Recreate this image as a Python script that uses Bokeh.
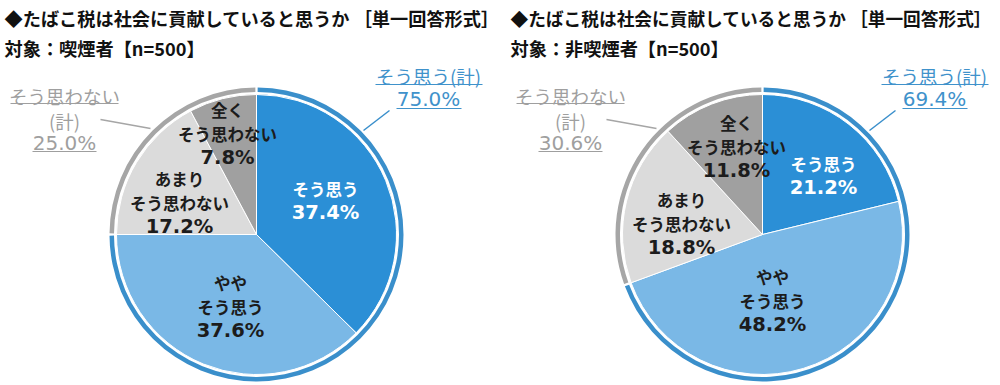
import math
from bokeh.plotting import figure
from bokeh.models import Range1d, ColumnDataSource
from bokeh.core.properties import value
from bokeh.embed import file_html
from bokeh.resources import INLINE

# ---------------- data ----------------
title_text = "◆たばこ税は社会に貢献していると思うか ［単一回答形式］"
subtitles = ["対象：喫煙者【n=500】", "対象：非喫煙者【n=500】"]
categories = ["そう思う", "ややそう思う", "あまりそう思わない", "全くそう思わない"]
category_lines = [["そう思う"], ["やや", "そう思う"], ["あまり", "そう思わない"], ["全く", "そう思わない"]]
smokers = [37.4, 37.6, 17.2, 7.8]
nonsmokers = [21.2, 48.2, 18.8, 11.8]
agree_lines = ["そう思う(計)"]
disagree_lines = ["そう思わない", "(計)"]

# ---------------- style ----------------
slice_colors = ["#2b8fd6", "#7ab8e6", "#dbdbdb", "#a0a0a0"]
label_colors = ["#ffffff", "#1c1c1c", "#1c1c1c", "#1c1c1c"]
ring_colors = ["#3a8fcb", "#a6a6a6"]
callout_colors = ["#3f92cb", "#9f9f9f"]
JP = value("Noto Sans CJK JP")
NUM = value("DejaVu Sans")

W, H = 1000, 385
PAGE_H = 385


def Y(img_y):
    return PAGE_H - img_y


p = figure(width=W, height=H, x_range=Range1d(0, W), y_range=Range1d(0, H),
           output_backend="svg", toolbar_location=None, x_axis_type=None, y_axis_type=None,
           min_border=0, outline_line_color=None)
p.grid.visible = False
p.background_fill_color = "white"
p.border_fill_color = "white"

CY = 234
R = 140
RING_IN, RING_OUT = 142.5, 147
GAP = math.radians(0.45)

panels = [
    dict(values=smokers, subtitle=subtitles[0], x0=4, cx=256, tsize="18.2px",
         offs=[(69, -34), (-26, 72), (-77, -32), (-29, -101)]),
    dict(values=nonsmokers, subtitle=subtitles[1], x0=510, cx=762, tsize="17.7px",
         offs=[(61, -59), (10, 66), (-81, -11), (-26, -88)]),
]


def ang(frac):
    return math.pi / 2 - 2 * math.pi * frac


for pan in panels:
    vals = pan["values"]
    cx = pan["cx"]
    cy = Y(CY)

    # titles
    p.text(x=[pan["x0"]], y=[Y(17)], text=[title_text], text_font=JP, text_font_style="bold",
           text_font_size=pan["tsize"], text_align="left", text_baseline="middle", text_color="#111111")
    p.text(x=[pan["x0"]], y=[Y(47)], text=[pan["subtitle"]], text_font=JP, text_font_style="bold",
           text_font_size="18.2px", text_align="left", text_baseline="middle", text_color="#111111")

    # slices
    starts, ends = [], []
    cum = 0.0
    for v in vals:
        f0, f1 = cum / 100, (cum + v) / 100
        starts.append(ang(f1))
        ends.append(ang(f0))
        cum += v
    src = ColumnDataSource(dict(x=[cx] * len(vals), y=[cy] * len(vals), s=starts, e=ends,
                                c=slice_colors, name=categories))
    p.wedge(x="x", y="y", radius=R, start_angle="s", end_angle="e", direction="anticlock",
            fill_color="c", line_color="white", line_width=1, source=src)

    # outer ring (totals)
    g_agree = sum(vals[:2])
    g_dis = sum(vals[2:])
    totals = [g_agree, g_dis]
    rs, re_ = [], []
    cum = 0.0
    for t in totals:
        f0, f1 = cum / 100, (cum + t) / 100
        rs.append(ang(f1) + GAP)
        re_.append(ang(f0) - GAP)
        cum += t
    p.annular_wedge(x=[cx, cx], y=[cy, cy], inner_radius=RING_IN, outer_radius=RING_OUT,
                    start_angle=rs, end_angle=re_, direction="anticlock",
                    fill_color=ring_colors, line_color=None)

    # slice labels
    for i, v in enumerate(vals):
        lines = category_lines[i] + [f"{v:.1f}%"]
        dx, dy = pan["offs"][i]
        n = len(lines)
        for k, ln in enumerate(lines):
            ly = CY + dy + (k - (n - 1) / 2) * 24
            is_num = k == n - 1
            p.text(x=[cx + dx], y=[Y(ly)], text=[ln],
                   text_font=NUM if is_num else JP, text_font_style="bold",
                   text_font_size="19.5px" if is_num else "16.5px",
                   text_align="center", text_baseline="middle", text_color=label_colors[i])

    # callout: agree total
    ca = callout_colors[0]
    p.segment(x0=[cx + 107], y0=[Y(CY - 104)], x1=[cx + 133], y1=[Y(CY - 124)],
              line_color=ring_colors[0], line_width=1.5)
    p.text(x=[cx + 172], y=[Y(CY - 159)], text=[agree_lines[0]], text_font=JP, text_font_style="normal",
           text_font_size="18.5px", text_align="center", text_baseline="middle", text_color=ca)
    p.text(x=[cx + 172], y=[Y(CY - 136)], text=[f"{g_agree:.1f}%"], text_font=NUM, text_font_style="normal",
           text_font_size="20px", text_align="center", text_baseline="middle", text_color=ca)
    p.segment(x0=[cx + 119, cx + 140], y0=[Y(CY - 150), Y(CY - 126)],
              x1=[cx + 226, cx + 205], y1=[Y(CY - 150), Y(CY - 126)], line_color=ca, line_width=1.2)

    # callout: disagree total
    cd = callout_colors[1]
    p.segment(x0=[cx - 106], y0=[Y(CY - 106)], x1=[cx - 156], y1=[Y(CY - 115)],
              line_color=ring_colors[1], line_width=1.5)
    dl = disagree_lines + [f"{g_dis:.1f}%"]
    dys = [-139, -114, -92]
    for k, ln in enumerate(dl):
        is_num = k == len(dl) - 1
        p.text(x=[cx - 192], y=[Y(CY + dys[k])], text=[ln], text_font=NUM if is_num else JP,
               text_font_style="normal", text_font_size="20px" if is_num else "18.5px",
               text_align="center", text_baseline="middle", text_color=cd)
    p.segment(x0=[cx - 246, cx - 224], y0=[Y(CY - 131), Y(CY - 83)],
              x1=[cx - 138, cx - 160], y1=[Y(CY - 131), Y(CY - 83)], line_color=cd, line_width=1.2)

open("out.html", "w").write(file_html(p, INLINE))
